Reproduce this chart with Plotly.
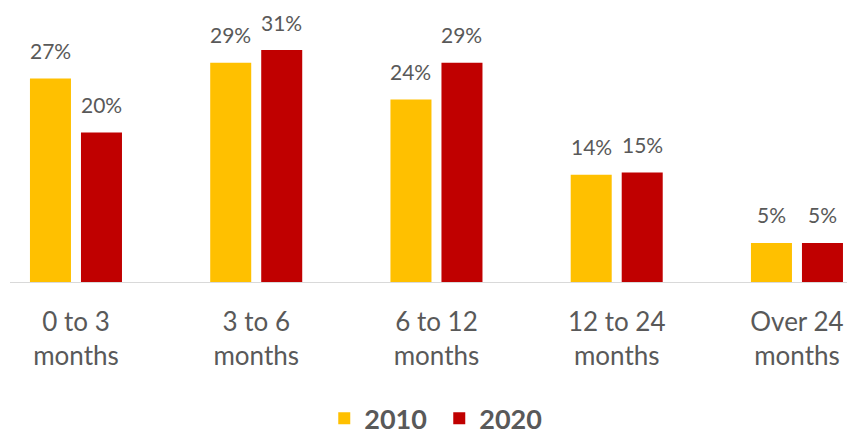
import plotly.graph_objects as go

# Duration categories (shown on two lines)
categories = ["0 to 3<br>months", "3 to 6<br>months", "6 to 12<br>months",
              "12 to 24<br>months", "Over 24<br>months"]
share_2010 = [27.1, 29.2, 24.3, 14.3, 5.2]
share_2020 = [19.9, 30.9, 29.2, 14.6, 5.2]

YELLOW = "#FFC000"
RED = "#C00000"
GREY_TEXT = "#595959"
FONT = "Lato"

fig = go.Figure()
fig.add_trace(go.Bar(x=categories, y=share_2010, name="2010",
                     marker=dict(color=YELLOW, line=dict(width=0))))
fig.add_trace(go.Bar(x=categories, y=share_2020, name="2020",
                     marker=dict(color=RED, line=dict(width=0))))

# data labels sit well above the bars, Excel style
for vals, shift in ((share_2010, -25.5), (share_2020, 25.5)):
    for cat, v in zip(categories, vals):
        fig.add_annotation(x=cat, y=v, text=f"{v:.0f}%", showarrow=False,
                           xshift=shift, yshift=28, yanchor="middle",
                           font=dict(family=FONT, size=21, color=GREY_TEXT))

# page body has an 8px margin, so the figure is 8px smaller than the window
fig.update_layout(
    width=847,
    height=426,
    margin=dict(l=2, r=0, t=12, b=152, autoexpand=False),
    plot_bgcolor="white",
    paper_bgcolor="white",
    barmode="group",
    bargap=0.434,
    bargroupgap=0.196,
    showlegend=True,
    legend=dict(orientation="h", x=0.508, xanchor="center",
                yref="container", y=0.036, yanchor="middle",
                font=dict(family=FONT, size=27, color=GREY_TEXT, weight="bold"),
                entrywidth=70),
)
fig.update_xaxes(
    range=[-0.366, 4.322],
    showline=True, linecolor="#D9D9D9", linewidth=1,
    showgrid=False, ticks="", ticklabelstandoff=17,
    tickfont=dict(family=FONT, size=26, color=GREY_TEXT),
)
fig.update_yaxes(range=[0, 34.9], visible=False)

fig.write_html("out.html")
